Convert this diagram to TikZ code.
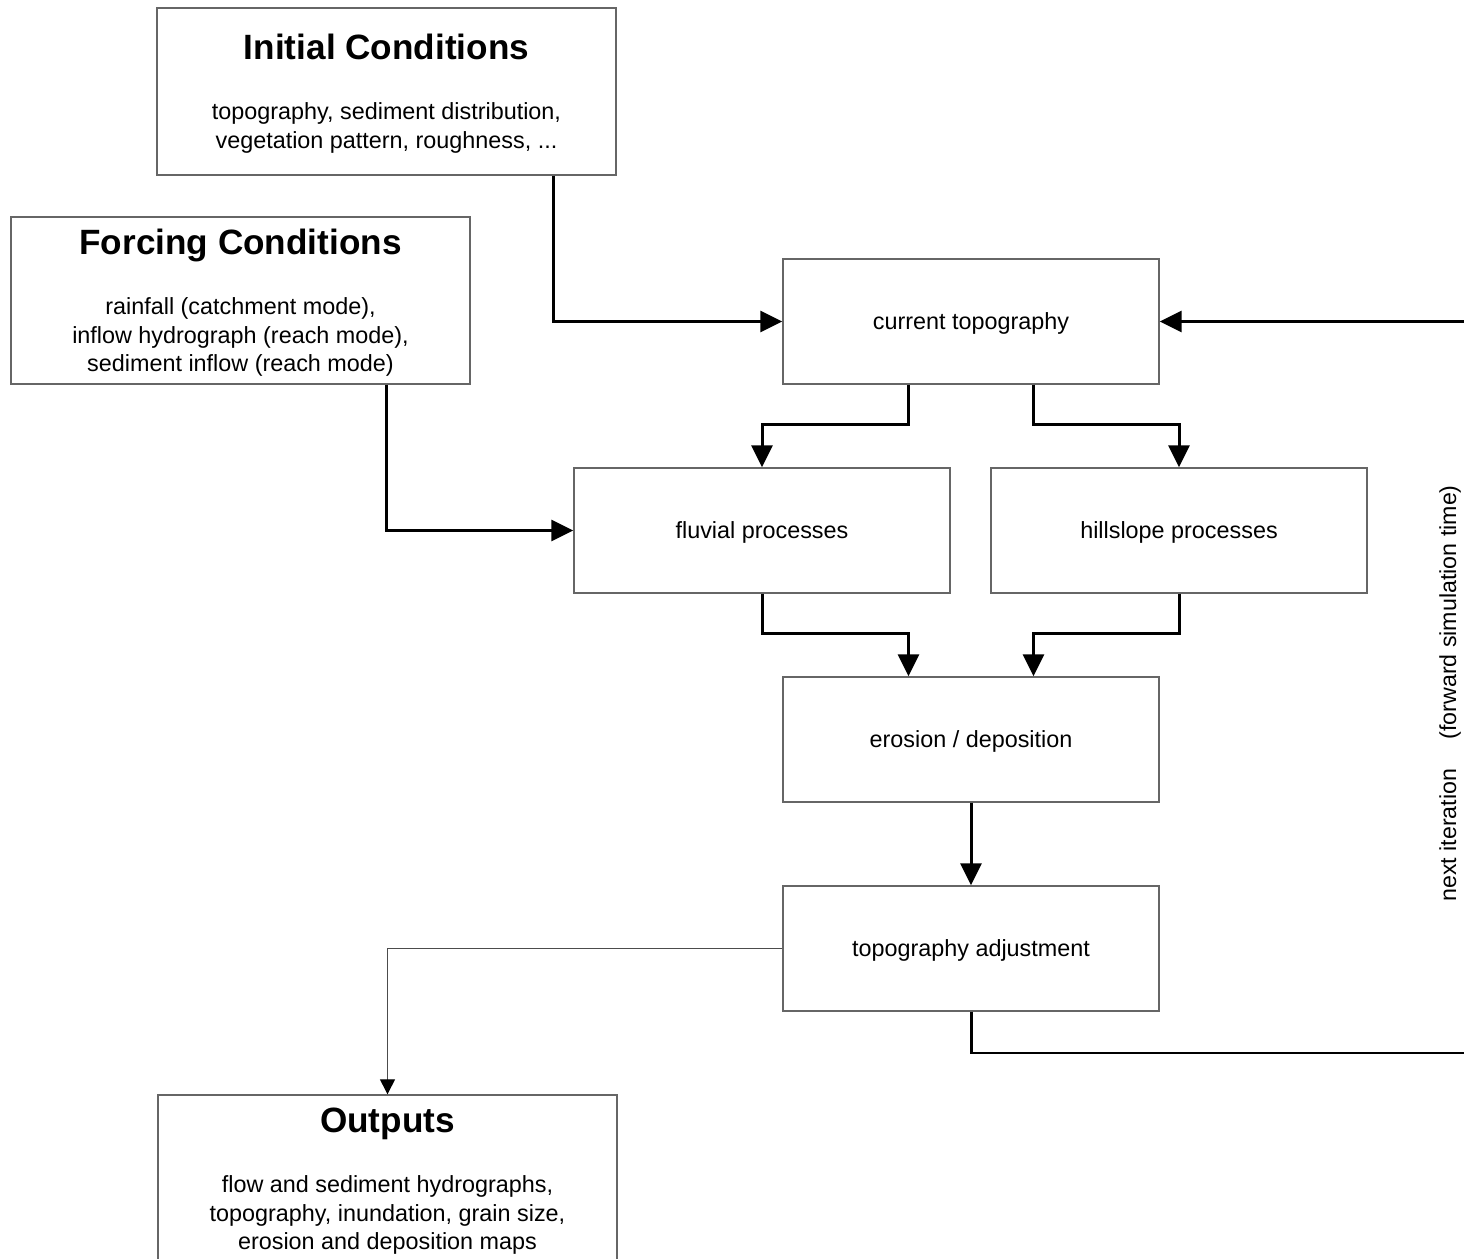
\documentclass[tikz,border=0pt]{standalone}
\usepackage{fontspec}
\setmainfont{Liberation Sans}
\usepackage{tikz}
\usetikzlibrary{arrows.meta,calc}

\tikzset{
  bigbox/.style={draw=black!60, line width=0.8pt, minimum width=9.18cm, minimum height=3.34cm,
    align=center, inner sep=0pt, font=\fontsize{13.3}{16.2}\selectfont},
  procbox/.style={draw=black!60, line width=0.8pt, minimum width=7.52cm, minimum height=2.5cm,
    align=center, text depth=0pt, font=\fontsize{13.3}{16.2}\selectfont},
  flow/.style={line width=1.7pt, -{Triangle[length=0.44cm, width=0.42cm]}},
  thinflow/.style={draw=black!70, line width=0.8pt, -{Triangle[length=0.3cm, width=0.3cm, black]}}
}
\newcommand{\boxtitle}[1]{{\fontsize{20}{24}\selectfont\bfseries\rule{0pt}{17pt}#1}\\[18pt]}

\begin{document}
\begin{tikzpicture}
    \useasboundingbox (0,0) rectangle (29.28,25.18);
    \clip (0,0) rectangle (29.28,25.18);

    % Input boxes
    \node[bigbox] (init) at (7.73, 23.35) {\boxtitle{Initial Conditions}
      topography, sediment distribution,\\
      vegetation pattern, roughness, ...};

    \node[bigbox] (forcing) at (4.81, 19.17) {\boxtitle{Forcing Conditions}
      rainfall (catchment mode),\\
      inflow hydrograph (reach mode),\\
      sediment inflow (reach mode)};

    % Model loop
    \node[procbox] (curtopo) at (19.42, 18.75) {current topography};
    \node[procbox] (fluvial) at (15.24, 14.57) {fluvial processes};
    \node[procbox] (hillslope) at (23.58, 14.57) {hillslope processes};
    \node[procbox] (erosion) at (19.42, 10.39) {erosion / deposition};
    \node[procbox] (topoadj) at (19.42, 6.21) {topography adjustment};

    % Output box
    \node[bigbox] (outputs) at (7.75, 1.61) {\boxtitle{Outputs}
      flow and sediment hydrographs,\\
      topography, inundation, grain size,\\
      erosion and deposition maps};

    % Arrows
    \draw[flow] ([xshift=3.33cm]init.south) |- (curtopo.west);
    \draw[flow] ([xshift=2.91cm]forcing.south) |- (fluvial.west);
    \draw[flow] ([xshift=-1.25cm]curtopo.south) -- ++(0,-0.8) -| (fluvial.north);
    \draw[flow] ([xshift=1.25cm]curtopo.south) -- ++(0,-0.8) -| (hillslope.north);
    \draw[flow] (fluvial.south) -- ++(0,-0.8) -| ([xshift=-1.25cm]erosion.north);
    \draw[flow] (hillslope.south) -- ++(0,-0.8) -| ([xshift=1.25cm]erosion.north);
    \draw[flow] (erosion) -- (topoadj);
    \draw[thinflow] (topoadj.west) -| (outputs.north);

    % Next iteration
    \coordinate (loopturn) at (29.7, 4.12);
    \draw[flow] (topoadj.south) |- (loopturn) |- (curtopo.east);
    \node[rotate=90, font=\fontsize{13.2}{15}\selectfont] (looplabel) at (29.0, 11.31)
      {next iteration\quad\ (forward simulation time)};
  \end{tikzpicture}
\end{document}
